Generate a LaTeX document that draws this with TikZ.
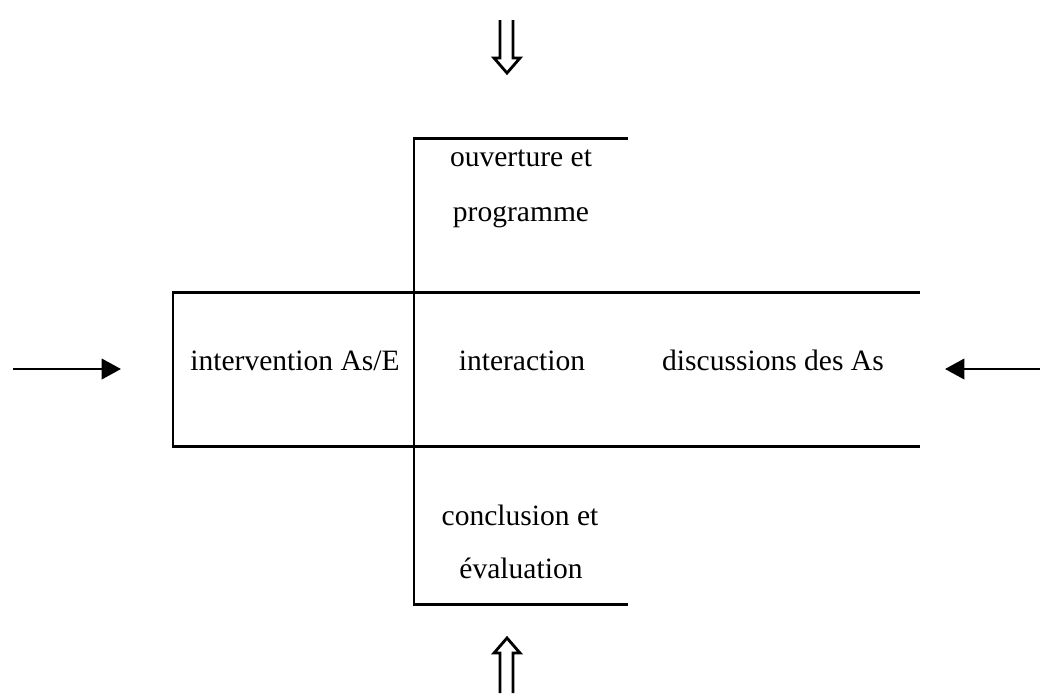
\documentclass[tikz,border=0pt]{standalone}
\usepackage{fontspec}
\setmainfont{Liberation Serif}
\usetikzlibrary{arrows.meta}
\begin{document}
\begin{tikzpicture}[x=0.01cm,y=-0.01cm,
  frame/.style={line width=0.85pt,line cap=rect},
  lbl/.style={font=\fontsize{8.4}{10}\selectfont,inner sep=0pt,anchor=base},
  inarrow/.style={line width=0.75pt,-{Triangle[length=5.5pt,width=5.8pt]}},
  blockarrow/.style={line width=0.8pt,fill=white,line join=miter}]
\useasboundingbox (0,0) rectangle (1045,693);
% frame lines
\draw[frame] (626,138) -- (414,138) -- (414,604) -- (626,604);
\draw[frame] (918,292) -- (173,292) -- (173,446) -- (918,446);
% texts
\node[lbl] (ouv) at (521,166) {ouverture et};
\node[lbl] (prog) at (521,221) {programme};
\node[lbl] (interv) at (295,370) {intervention As/E};
\node[lbl] (inter) at (522,370) {interaction};
\node[lbl] (disc) at (773,370) {discussions des As};
\node[lbl] (concl) at (520,525) {conclusion et};
\node[lbl] (eval) at (521,578) {évaluation};
% side arrows
\coordinate (lstart) at (13,369);
\coordinate (lend) at (121,369);
\coordinate (rstart) at (1040,369);
\coordinate (rend) at (945,369);
\draw[inarrow] (lstart) -- (lend);
\draw[inarrow] (rstart) -- (rend);
% hollow block arrows
\draw[blockarrow] (500,20) -- (500,58) -- (494,58) -- (507,73) -- (520,58) -- (513,58) -- (513,20);
\draw[blockarrow] (500,693) -- (500,653) -- (494,653) -- (507,638) -- (520,653) -- (513,653) -- (513,693);
\end{tikzpicture}
\end{document}
